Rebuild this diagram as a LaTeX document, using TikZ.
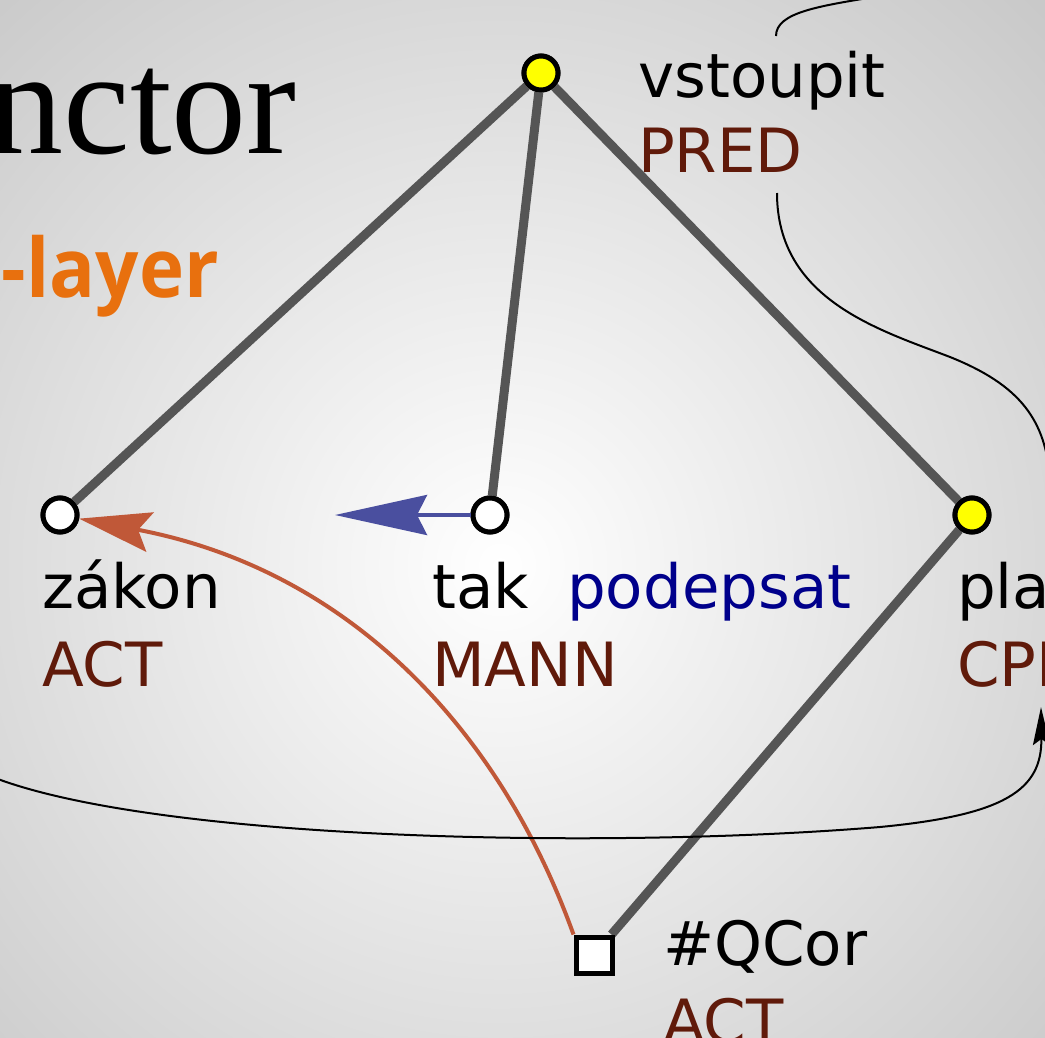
\documentclass[tikz,border=0pt]{standalone}
\usepackage{fontspec}
\setmainfont{DejaVu Sans}
\newfontfamily\titlefont{Liberation Serif}
\newfontfamily\layerfont[FakeStretch=0.93]{Open Sans}
\usetikzlibrary{arrows.meta}
\definecolor{edgegray}{HTML}{555555}
\definecolor{funcred}{HTML}{601A0A}
\definecolor{lemmablue}{HTML}{00008B}
\definecolor{arrowblue}{HTML}{4A4F9F}
\definecolor{corefred}{HTML}{C05838}
\definecolor{layerorange}{HTML}{E8700E}
\definecolor{nodeyellow}{HTML}{FFFF00}
\tikzset{
  tnode/.style={circle, draw=black, line width=5pt, minimum size=34pt, inner sep=0pt, fill=white},
  tnodeyellow/.style={tnode, fill=nodeyellow},
  tsquare/.style={rectangle, draw=black, line width=5pt, minimum size=36pt, inner sep=0pt, fill=white},
  treeedge/.style={draw=edgegray, line width=9pt},
  lemma/.style={anchor=base west, inner sep=0pt, font=\fontsize{61}{72}\selectfont},
  functor/.style={lemma, text=funcred},
  thinlink/.style={draw=black, line width=2pt},
}
\begin{document}
\begin{tikzpicture}[x=1pt, y=-1pt]
  \useasboundingbox (0,0) rectangle (1045,1037);
  \clip (0,0) rectangle (1045,1037);
  % background
  \shade[inner color=white, outer color=black!22] (-300,-250) rectangle (1300,1380);

  % headings
  \node[anchor=base east, inner sep=0pt, font=\titlefont\fontsize{150}{160}\selectfont] (title) at (297,153) {nctor};
  \node[anchor=base east, inner sep=0pt, text=layerorange, font=\layerfont\bfseries\fontsize{82}{90}\selectfont] (layer) at (219,297) {-layer};

  % tree nodes
  \node[tnodeyellow] (root) at (541,73) {};
  \node[tnode] (zakon) at (60,515) {};
  \node[tnode] (tak) at (490,515) {};
  \node[tnodeyellow] (pla) at (972,515) {};
  \node[tsquare] (qcor) at (594,955) {};

  % tree edges
  \draw[treeedge] (root) -- (zakon);
  \draw[treeedge] (root) -- (tak);
  \draw[treeedge] (root) -- (pla);
  \draw[treeedge] (pla) -- (qcor);

  % redraw nodes on top of edges
  \node[tnodeyellow] at (root) {};
  \node[tnode] at (zakon) {};
  \node[tnode] at (tak) {};
  \node[tnodeyellow] at (pla) {};
  \node[tsquare] at (qcor) {};

  % labels
  \node[lemma] (l-root) at (638,97) {vstoupit};
  \node[functor] (f-root) at (638,172) {PRED};
  \node[lemma] (l-zakon) at (42,608) {zákon};
  \node[functor] (f-zakon) at (42,686) {ACT};
  \node[lemma] (l-tak) at (432,608) {tak};
  \node[functor] (f-tak) at (432,686) {MANN};
  \node[lemma, text=lemmablue] (l-podepsat) at (567,608) {podepsat};
  \node[lemma] (l-pla) at (957,608) {pla};
  \node[functor] (f-pla) at (957,686) {CPR};
  \node[lemma] (l-qcor) at (663,965) {\#QCor};
  \node[functor] (f-qcor) at (663,1043) {ACT};

  % coreference and auxiliary arrows
  \coordinate (blueend) at (335,515);
  \draw[arrowblue, line width=4pt, -{Stealth[length=92pt, width=40pt, inset=10pt]}] (tak) -- (blueend);
  \draw[corefred, line width=4pt, -{Stealth[length=72pt, width=40pt, inset=12pt]}]
    (qcor.north west) .. controls (500,730) and (350,570) .. (zakon);

  % thin links to neighbouring trees
  \coordinate (ta) at (776,36);
  \coordinate (tb) at (880,-4);
  \draw[thinlink] (ta) .. controls (776,12) and (820,6) .. (tb);
  \coordinate (sa) at (777,193);
  \coordinate (sm) at (950,357);
  \coordinate (sb) at (1050,480);
  \draw[thinlink] (sa) .. controls (777,300) and (880,330) .. (sm) .. controls (1020,385) and (1046,420) .. (sb);
  \coordinate (ba) at (-10,776);
  \coordinate (bm) at (880,827);
  \coordinate (bb) at (1041,707);
  \draw[thinlink, -{Stealth[length=38pt, width=17pt, inset=6pt]}] (ba) .. controls (150,840) and (600,850) .. (bm) .. controls (1005,815) and (1042,790) .. (bb);
\end{tikzpicture}
\end{document}
